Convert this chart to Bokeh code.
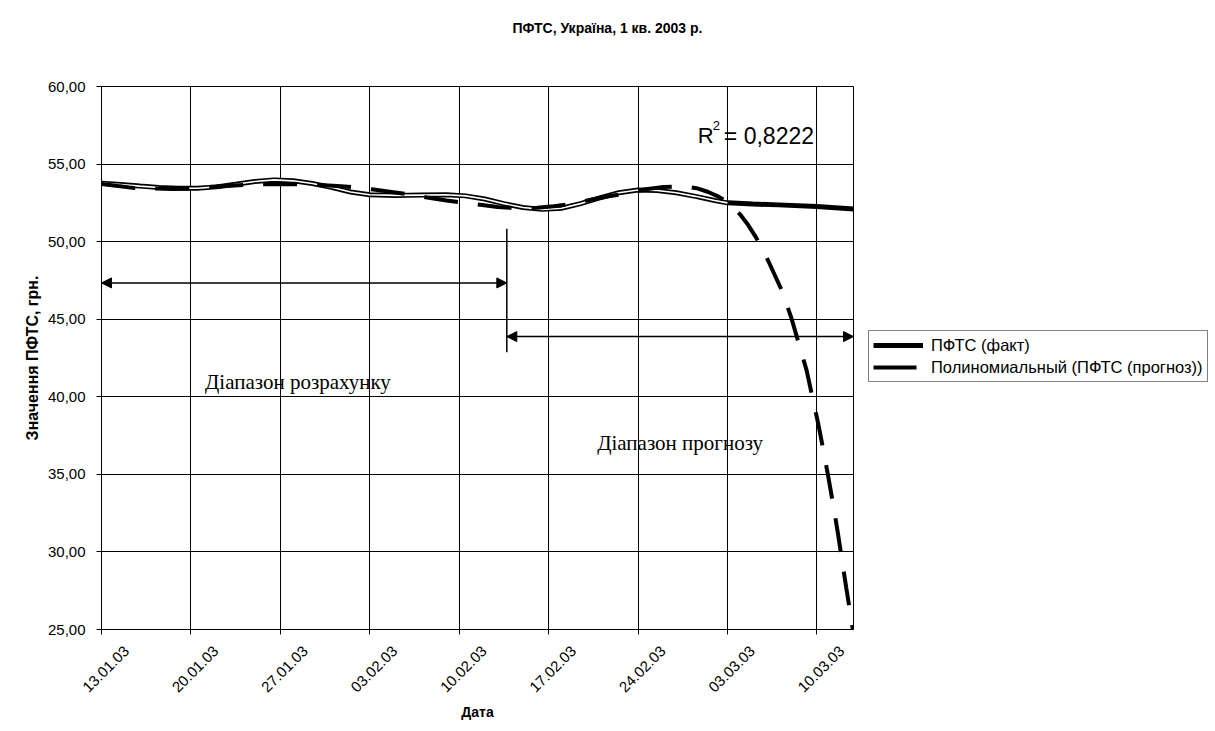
import math
from bokeh.plotting import figure
from bokeh.layouts import row, column
from bokeh.models import FixedTicker, Legend, LegendItem, Label, Arrow, NormalHead, LinearAxis
from bokeh.embed import file_html
from bokeh.resources import INLINE

# ---------------- data ----------------
title_text = "ПФТС, Україна, 1 кв. 2003 р."
x_axis_title = "Дата"
y_axis_title = "Значення ПФТС, грн."

x_tick_days = [0, 7, 14, 21, 28, 35, 42, 49, 56]
x_tick_labels = ["13.01.03", "20.01.03", "27.01.03", "03.02.03", "10.02.03",
                 "17.02.03", "24.02.03", "03.03.03", "10.03.03"]
y_ticks = [25, 30, 35, 40, 45, 50, 55, 60]
y_tick_labels = ["25,00", "30,00", "35,00", "40,00", "45,00", "50,00", "55,00", "60,00"]

# ПФТС (факт): days since 13.01.03
fact_days = [0, 1.5, 3, 4.5, 6, 7.5, 9, 10.5, 12, 13.5,
             15, 16.5, 18, 19.5, 21, 23, 25, 27, 28.5, 30,
             31.5, 33, 34.5, 36, 37.5, 39, 40.5, 42, 43.5, 45,
             46.5, 48, 49, 51, 53, 56, 58.87]
fact_values = [53.77, 53.68, 53.58, 53.49, 53.44, 53.44, 53.53, 53.70, 53.88, 53.98,
               53.92, 53.75, 53.50, 53.20, 53.02, 52.98, 53.00, 53.02, 52.95, 52.75,
               52.45, 52.20, 52.08, 52.15, 52.45, 52.82, 53.15, 53.33, 53.30, 53.15,
               52.92, 52.65, 52.50, 52.42, 52.37, 52.27, 52.10]
fact_calc_end = 49  # last day of the calculation range

# Полиномиальный тренд (ПФТС (прогноз))
trend_days = [0, 1.3, 2.6, 4.3, 5.7, 7.1, 8.5, 10, 11.1, 12.6,
              14, 15.4, 17, 18.5, 19.7, 21.3, 22.7, 24, 25.5, 27,
              28.2, 29.8, 31, 32.4, 34.1, 35.4, 36.7, 38.3, 39.7, 41,
              42.6, 44, 45.2, 46, 46.7, 47.5, 48.3, 49, 50, 50.6,
              51.24, 52.2, 53.26, 54, 54.63, 55.2, 55.68, 56.1, 56.55, 56.95,
              57.31, 57.65, 57.97, 58.3, 58.62, 58.9]
trend_values = [53.72, 53.58, 53.45, 53.42, 53.40, 53.44, 53.52, 53.60, 53.65, 53.70,
                53.72, 53.70, 53.65, 53.58, 53.52, 53.36, 53.20, 53.05, 52.84, 52.65,
                52.52, 52.36, 52.24, 52.16, 52.18, 52.28, 52.42, 52.70, 52.92, 53.10,
                53.38, 53.52, 53.55, 53.52, 53.42, 53.20, 52.90, 52.55, 51.75, 51.10,
                50.28, 48.75, 46.85, 45.10, 43.31, 41.70, 39.87, 38.30, 36.39, 34.60,
                32.90, 31.20, 29.47, 27.70, 26.05, 24.55]

r2_text = "0,8222"
calc_label = "Діапазон розрахунку"
forecast_label = "Діапазон прогнозу"
legend_labels = ["ПФТС (факт)", "Полиномиальный (ПФТС (прогноз))"]

# annotation geometry (data units)
x_min, x_max = 0, 58.87
y_min, y_max = 25, 60
split_day = 31.73
calc_arrow_level = 47.34
forecast_arrow_level = 43.88
split_top, split_bottom = 50.83, 42.87
x_label_shift = 1.96  # Excel-style placement of rotated date labels (days)

SANS = "Liberation Sans"
SERIF = "Liberation Serif"

TOTAL_W = 1213
TITLE_H = 50
P_W = 855

# ---------------- title strip ----------------
tf = figure(width=TOTAL_W, height=TITLE_H, x_range=(0, 1), y_range=(0, 1),
            output_backend="svg", toolbar_location=None,
            x_axis_type=None, y_axis_type=None, min_border=0)
tf.outline_line_color = None
tf.background_fill_color = "white"
tf.border_fill_color = "white"
tf.add_layout(Label(x=607, y=TITLE_H - 27, x_units="screen", y_units="screen",
                    text=title_text, text_font=SANS, text_font_size="14px",
                    text_font_style="bold", text_align="center", text_baseline="middle",
                    text_color="black"))

# ---------------- main plot ----------------
p = figure(frame_width=752, frame_height=543, x_range=(x_min, x_max), y_range=(y_min, y_max),
           output_backend="svg", toolbar_location=None,
           min_border_left=101, min_border_right=2, min_border_top=86 - TITLE_H,
           min_border_bottom=94)
p.background_fill_color = "white"
p.border_fill_color = "white"
p.outline_line_color = "black"
p.outline_line_width = 1

xt = FixedTicker(ticks=x_tick_days)
yt = FixedTicker(ticks=y_ticks)

xa = p.below[0]  # tick marks only
xa.ticker = xt
xa.major_label_overrides = {d: "" for d in x_tick_days}
xa.major_label_text_font_size = "1px"
xa.major_label_standoff = 0
xa.axis_line_color = "black"
xa.major_tick_line_color = "black"
xa.major_tick_out = 5
xa.major_tick_in = 0
xa.minor_tick_line_color = None

shifted = [d + x_label_shift for d in x_tick_days]
xb = LinearAxis(ticker=FixedTicker(ticks=shifted),
                major_label_overrides={s: l for s, l in zip(shifted, x_tick_labels)},
                major_label_orientation=math.pi / 4,
                axis_line_color=None, major_tick_line_color=None, minor_tick_line_color=None,
                major_tick_out=0, major_tick_in=0, major_label_standoff=14,
                major_label_text_font=SANS, major_label_text_font_size="15px",
                major_label_text_color="black",
                axis_label=x_axis_title, axis_label_text_font=SANS,
                axis_label_text_font_size="14px", axis_label_text_font_style="bold",
                axis_label_text_color="black", axis_label_standoff=4)
p.add_layout(xb, "below")

ya = p.left[0]
ya.ticker = yt
ya.major_label_overrides = {v: l for v, l in zip(y_ticks, y_tick_labels)}
ya.axis_line_color = "black"
ya.major_tick_line_color = "black"
ya.major_tick_out = 5
ya.major_tick_in = 0
ya.minor_tick_line_color = None
ya.major_label_text_font = SANS
ya.major_label_text_font_size = "15px"
ya.major_label_text_color = "black"
ya.major_label_standoff = 11
ya.axis_label = y_axis_title
ya.axis_label_text_font = SANS
ya.axis_label_text_font_size = "16px"
ya.axis_label_text_font_style = "bold"
ya.axis_label_text_color = "black"
ya.axis_label_standoff = 4

p.xgrid.ticker = xt
p.ygrid.ticker = yt
for g in (p.xgrid, p.ygrid):
    g.grid_line_color = "black"
    g.grid_line_width = 1

# series
fact_line = p.line(fact_days, fact_values, line_color="black", line_width=5)
calc_n = sum(1 for d in fact_days if d <= fact_calc_end)
p.line(fact_days[:calc_n], fact_values[:calc_n], line_color="white", line_width=1.6)
trend_line = p.line(trend_days, trend_values, line_color="black", line_width=4,
                    line_dash="34 20")

# range arrows
def head():
    return NormalHead(size=10, fill_color="black", line_color="black")

p.add_layout(Arrow(start=head(), end=head(),
                   x_start=x_min, y_start=calc_arrow_level,
                   x_end=split_day, y_end=calc_arrow_level, line_width=1.5))
p.add_layout(Arrow(start=head(), end=head(),
                   x_start=split_day, y_start=forecast_arrow_level,
                   x_end=x_max, y_end=forecast_arrow_level, line_width=1.5))
p.segment(x0=[split_day], y0=[split_top], x1=[split_day], y1=[split_bottom],
          line_color="black", line_width=1.5)

p.add_layout(Label(x=8.1, y=40.95, text=calc_label, text_font=SERIF,
                   text_font_size="21px", text_color="black", text_baseline="alphabetic"))
p.add_layout(Label(x=38.8, y=37.05, text=forecast_label, text_font=SERIF,
                   text_font_size="21px", text_color="black", text_baseline="alphabetic"))

# R^2
p.add_layout(Label(x=46.67, y=56.81, text="R", text_font=SANS, text_font_size="22px",
                   text_color="black", text_baseline="alphabetic"))
p.add_layout(Label(x=47.85, y=57.5, text="2", text_font=SANS, text_font_size="13px",
                   text_color="black", text_baseline="alphabetic"))
p.add_layout(Label(x=48.72, y=56.81, text="= " + r2_text, text_font=SANS, text_font_size="23px",
                   text_color="black", text_baseline="alphabetic"))

# ---------------- legend panel ----------------
LF_H = 723 - TITLE_H
lf = figure(width=TOTAL_W - P_W, height=LF_H, x_range=(0, 1), y_range=(0, 1),
            output_backend="svg", toolbar_location=None,
            x_axis_type=None, y_axis_type=None, min_border=0)
lf.outline_line_color = None
lf.background_fill_color = "white"
lf.border_fill_color = "white"
# legend-only renderers, kept outside the visible range
lg_fact = lf.line([5, 6], [5, 6], line_color="black", line_width=5)
lg_trend = lf.line([5, 6], [5, 6], line_color="black", line_width=4, line_dash="43 100")

legend = Legend(items=[LegendItem(label=legend_labels[0], renderers=[lg_fact]),
                       LegendItem(label=legend_labels[1], renderers=[lg_trend])],
                location=(13, 247))
legend.border_line_color = "black"
legend.border_line_width = 1
legend.background_fill_color = "white"
legend.background_fill_alpha = 1
legend.label_text_font = SANS
legend.label_text_font_size = "16.5px"
legend.label_text_color = "black"
legend.glyph_width = 50
legend.glyph_height = 20
legend.label_height = 20
legend.label_standoff = 8
legend.padding = 4
legend.spacing = 2
legend.margin = 0
lf.add_layout(legend, "center")

layout = column(tf, row(p, lf))
open("out.html", "w").write(file_html(layout, INLINE))
